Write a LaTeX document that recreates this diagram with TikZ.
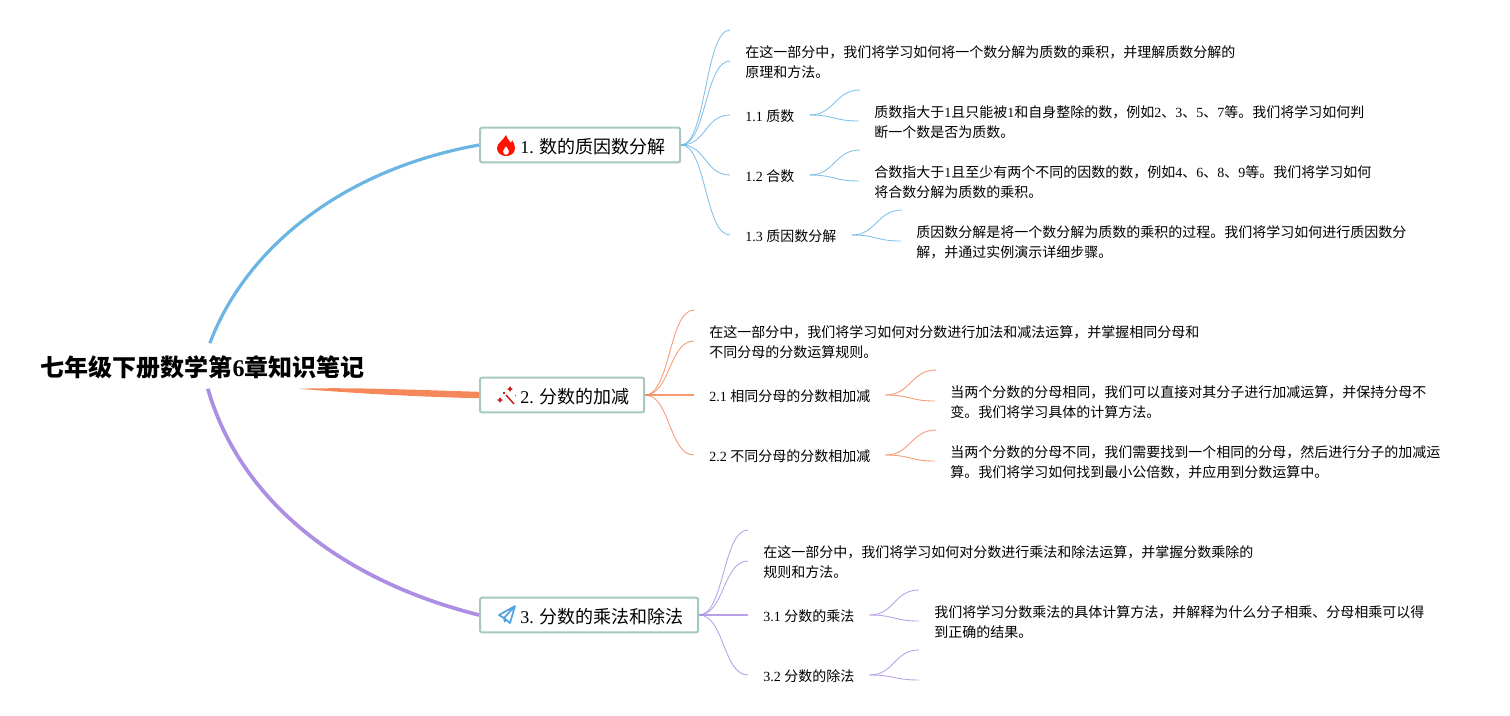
\documentclass[tikz,border=0pt]{standalone}
\usepackage{fontspec}
\setmainfont{Noto Sans CJK SC}
\newfontfamily\latinface{Liberation Serif}
\newcommand{\dg}[1]{{\latinface #1}}
\newcommand{\icongap}{\hspace*{19.5pt}}
\definecolor{bluel}{HTML}{6BB5E5}
\definecolor{orangel}{HTML}{F5885A}
\definecolor{purplel}{HTML}{AC8FE3}
\definecolor{boxline}{HTML}{A6C9BF}
\tikzset{
  main/.style={draw=boxline,line width=1.5pt,rounded corners=1.5pt,anchor=west,minimum height=26pt,inner xsep=10.75pt,inner ysep=0pt,text height=13pt,text depth=0pt,font=\fontsize{13.5}{16}\selectfont},
  label/.style={anchor=west,inner xsep=11.25pt,inner ysep=0pt,text height=9pt,text depth=0pt,font=\fontsize{10.5}{15}\selectfont},
  leaf/.style={label,text height=24pt,align=left},
  link/.style={to path={.. controls +(25,0) and +(-25,0) .. (\tikztotarget)}},
  lnb/.style={draw=bluel,line width=0.65pt,opacity=0.85,link},
  lno/.style={draw=orangel,line width=0.65pt,opacity=0.85,link},
  lnp/.style={draw=purplel,line width=0.65pt,opacity=0.85,link}
}
\begin{document}
\begin{tikzpicture}[x=0.75pt,y=-0.75pt]
  \useasboundingbox (0,0) rectangle (1510,715);
  \node[inner sep=0pt,minimum height=33.75pt,text depth=0pt,font=\fontsize{18}{22}\selectfont\bfseries] (root) at (202.5,366) {七年级下册数学第\dg{6}章知识笔记};
  % main boxes
  \node[main] (box1) at (479,145) {\icongap\dg{1. }数的质因数分解};
  \node[main] (box2) at (479,395) {\icongap\dg{2. }分数的加减};
  \node[main] (box3) at (479,615) {\icongap\dg{3. }分数的乘法和除法};
  % first part
  \coordinate (e1) at (730,30);
  \node[leaf] (intro1) at (730,61) {在这一部分中，我们将学习如何将一个数分解为质数的乘积，并理解质数分解的\\原理和方法。};
  \node[label] (l11) at (730,115) {\dg{1.1 }质数};
  \node[label] (l12) at (730,175) {\dg{1.2 }合数};
  \node[label] (l13) at (730,235) {\dg{1.3 }质因数分解};
  \coordinate (e11) at (860,90);
  \coordinate (e12) at (860,150);
  \coordinate (e13) at (902,210);
  \node[leaf] (t11) at (859,121) {质数指大于\dg{1}且只能被\dg{1}和自身整除的数，例如\dg{2}、\dg{3}、\dg{5}、\dg{7}等。我们将学习如何判\\断一个数是否为质数。};
  \node[leaf] (t12) at (859,181) {合数指大于\dg{1}且至少有两个不同的因数的数，例如\dg{4}、\dg{6}、\dg{8}、\dg{9}等。我们将学习如何\\将合数分解为质数的乘积。};
  \node[leaf] (t13) at (901,241) {质因数分解是将一个数分解为质数的乘积的过程。我们将学习如何进行质因数分\\解，并通过实例演示详细步骤。};
  % second part
  \coordinate (e2) at (694,310);
  \node[leaf] (intro2) at (694,341) {在这一部分中，我们将学习如何对分数进行加法和减法运算，并掌握相同分母和\\不同分母的分数运算规则。};
  \node[label] (l21) at (694,395) {\dg{2.1 }相同分母的分数相加减};
  \node[label] (l22) at (694,455) {\dg{2.2 }不同分母的分数相加减};
  \coordinate (e21) at (936,370);
  \coordinate (e22) at (936,430);
  \node[leaf] (t21) at (935,401) {当两个分数的分母相同，我们可以直接对其分子进行加减运算，并保持分母不\\变。我们将学习具体的计算方法。};
  \node[leaf] (t22) at (935,461) {当两个分数的分母不同，我们需要找到一个相同的分母，然后进行分子的加减运\\算。我们将学习如何找到最小公倍数，并应用到分数运算中。};
  % third part
  \coordinate (e3) at (748,530);
  \node[leaf] (intro3) at (748,561) {在这一部分中，我们将学习如何对分数进行乘法和除法运算，并掌握分数乘除的\\规则和方法。};
  \node[label] (l31) at (748,615) {\dg{3.1 }分数的乘法};
  \node[label] (l32) at (748,675) {\dg{3.2 }分数的除法};
  \coordinate (e31) at (919,590);
  \coordinate (e32) at (919,650);
  \coordinate (e33) at (919,680);
  \node[leaf] (t31) at (919,621) {我们将学习分数乘法的具体计算方法，并解释为什么分子相乘、分母相乘可以得\\到正确的结果。};
  % from the root
  \draw[bluel,line width=2.4pt] ([xshift=5.5pt]root.north) .. controls (245,250) and (340,170) .. (box1.west);
  \draw[purplel,line width=2.8pt] ([xshift=4pt]root.south) .. controls (240,500) and (340,580) .. (box3.west);
  \fill[orangel] ([xshift=72pt]root.south) .. controls (350,387) and (420,390) .. ([yshift=2.4pt]box2.west)
    -- ([yshift=-2.4pt]box2.west) .. controls (420,397) and (350,393) .. cycle;
  % connectors
  \draw[lnb] (box1.east) to (e1);
  \draw[lnb] (box1.east) to (intro1.west);
  \draw[lnb] (box1.east) to (l11.west);
  \draw[lnb] (box1.east) to (l12.west);
  \draw[lnb] (box1.east) to (l13.west);
  \draw[lnb] (l11.east) to (e11);
  \draw[lnb] (l11.east) to (t11.west);
  \draw[lnb] (l12.east) to (e12);
  \draw[lnb] (l12.east) to (t12.west);
  \draw[lnb] (l13.east) to (e13);
  \draw[lnb] (l13.east) to (t13.west);
  \draw[lno] (box2.east) to (e2);
  \draw[lno] (box2.east) to (intro2.west);
  \draw[lno,line width=1pt] (box2.east) to (l21.west);
  \draw[lno] (box2.east) to (l22.west);
  \draw[lno] (l21.east) to (e21);
  \draw[lno] (l21.east) to (t21.west);
  \draw[lno] (l22.east) to (e22);
  \draw[lno] (l22.east) to (t22.west);
  \draw[lnp] (box3.east) to (e3);
  \draw[lnp] (box3.east) to (intro3.west);
  \draw[lnp,line width=1pt] (box3.east) to (l31.west);
  \draw[lnp] (box3.east) to (l32.west);
  \draw[lnp] (l31.east) to (e31);
  \draw[lnp] (l31.east) to (t31.west);
  \draw[lnp] (l32.east) to (e32);
  \draw[lnp] (l32.east) to (e33);
  % icons
  \fill[red!85!orange,even odd rule] (506,135) .. controls (507,139) and (510,141) .. (511,143)
    .. controls (512,142) and (512,141) .. (512,140) .. controls (514,143) and (515,146) .. (515,148)
    .. controls (515,153) and (511,156) .. (506,156) .. controls (501,156) and (497,153) .. (497,148)
    .. controls (497,143) and (503,141) .. (506,135) -- cycle
    (506,155) .. controls (508,155) and (509,153) .. (509,151) .. controls (509,150) and (507,148) .. (506,146)
    .. controls (505,148) and (503,150) .. (503,151) .. controls (503,153) and (504,155) .. (506,155) -- cycle;
  \draw[red!75!black!90,line width=1.1pt] (506,395) -- (514,404);
  \fill[red!75!black!90] (510,386) -- (511,388) -- (513,389) -- (511,390) -- (510,392) -- (509,390) -- (507,389) -- (509,388) -- cycle;
  \fill[red!75!black!90] (500,397) -- (501,399) -- (503,400) -- (501,401) -- (500,403) -- (499,401) -- (497,400) -- (499,399) -- cycle;
  \fill[red!75!black!90] (503,392) rectangle (505,394);
  \fill[red!75!black!90] (515,395) rectangle (516,396);
  \draw[cyan!70!blue!70,line width=1.3pt,line join=round] (515,606) -- (499,615) -- (504,618) -- (515,606) -- (510,623) -- (504,618) -- (505,622);
\end{tikzpicture}
\end{document}
